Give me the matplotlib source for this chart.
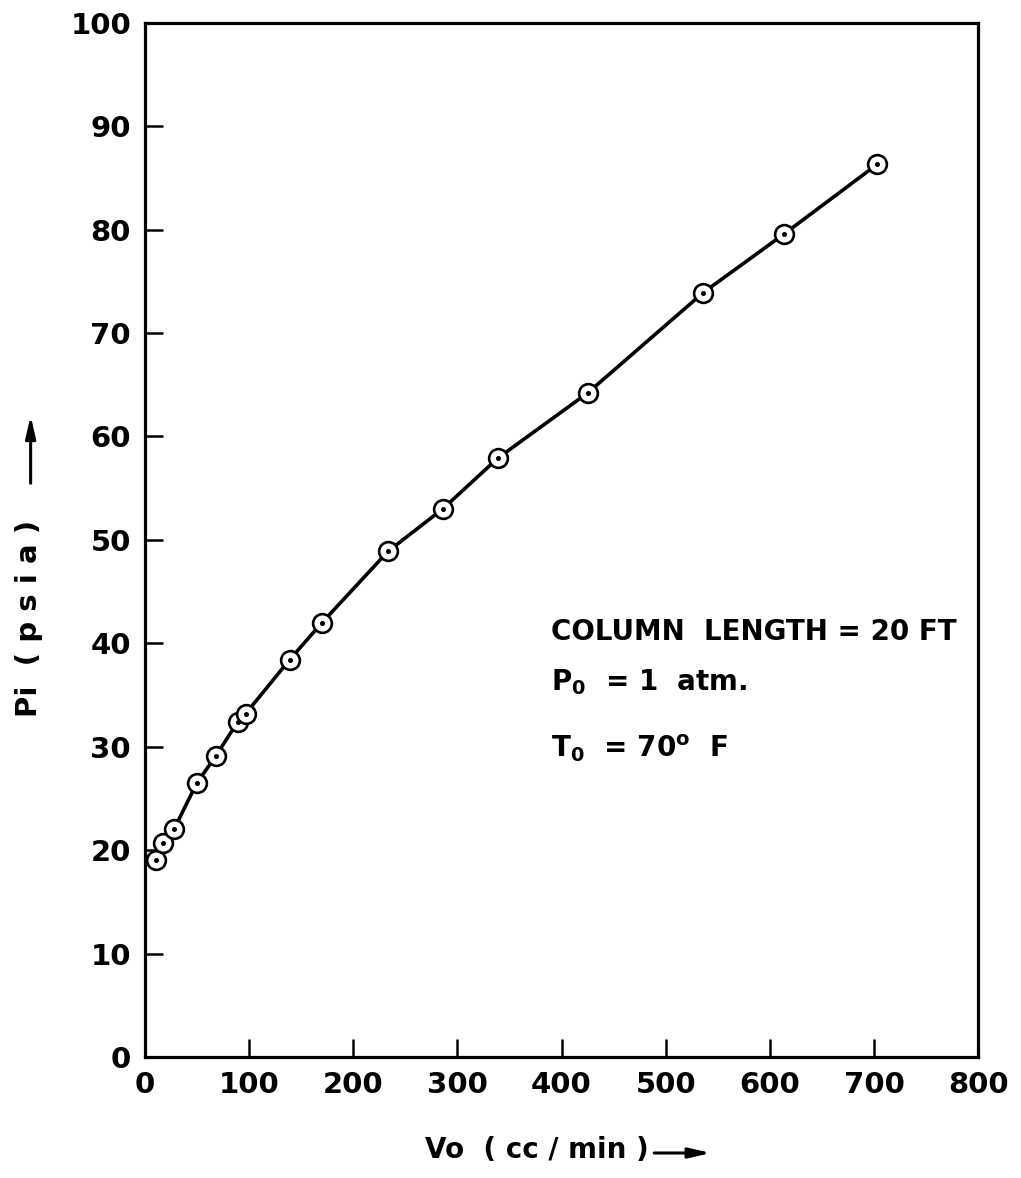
import numpy as np
import matplotlib
matplotlib.use("Agg")
import matplotlib.pyplot as plt

plt.rcParams["font.family"] = ["DejaVu Sans"]
plt.rcParams["mathtext.fontset"] = "dejavusans"

# 读图得到的数据点 (Vo, Pi)
vo = [10.5, 17.2, 27.8, 49.8, 68, 89, 96.7, 138.8, 170, 233.5, 286, 338.8, 425, 536, 614, 703]
pi = [19.05, 20.7, 22.0, 26.5, 29.1, 32.4, 33.2, 38.4, 42.0, 48.9, 53.0, 57.9, 64.2, 73.9, 79.6, 86.3]

x_ticks = [0, 100, 200, 300, 400, 500, 600, 700, 800]
y_ticks = [0, 10, 20, 30, 40, 50, 60, 70, 80, 90, 100]

fig = plt.figure(figsize=(10.21, 11.78), dpi=100)
ax = fig.add_axes([0.142, 0.1027, 0.816, 0.878])

ax.plot(vo, pi, color="black", lw=2.6, zorder=2)
ax.plot(vo, pi, "o", ms=13.5, mfc="white", mec="black", mew=1.9, zorder=3)
ax.plot(vo, pi, "o", ms=2.6, color="black", zorder=4)

ax.set_xlim(0, 800)
ax.set_ylim(0, 100)
ax.set_xticks(x_ticks)
ax.set_yticks(y_ticks)
ax.tick_params(direction="in", length=13, width=1.8, labelsize=21, pad=10,
               top=False, right=False)
for lab in ax.get_xticklabels() + ax.get_yticklabels():
    lab.set_fontweight("bold")
for s in ax.spines.values():
    s.set_linewidth(2.3)

# 注释文字
kw = dict(transform=ax.transAxes, fontsize=20, fontweight="bold", va="baseline", ha="left")
ax.text(0.487, 0.403, "COLUMN  LENGTH = 20 FT", **kw)
ax.text(0.487, 0.355, r"$\mathbf{P_0}$  = 1  atm.", **kw)
ax.text(0.487, 0.290, r"$\mathbf{T_0}$  = 70$^{\mathbf{o}}$  F", **kw)

arrow = dict(arrowstyle="-|>,head_length=1.3,head_width=0.3", color="black", lw=2.2)

fig.text(0.416, 1 - 1158 / 1178, "Vo  ( cc / min )", fontsize=20, fontweight="bold",
         ha="left", va="baseline")
ax.annotate("", xy=(0.699, 1 - 1153 / 1178), xytext=(0.638, 1 - 1153 / 1178),
            xycoords="figure fraction", arrowprops=arrow)

fig.text(0.028, 1 - 618 / 1178, "Pi  ( p s i a )", fontsize=21, fontweight="bold",
         rotation=90, ha="center", va="center")
ax.annotate("", xy=(0.030, 1 - 413 / 1178), xytext=(0.030, 1 - 486 / 1178),
            xycoords="figure fraction", arrowprops=arrow)

fig.savefig("out.png", dpi=100)
